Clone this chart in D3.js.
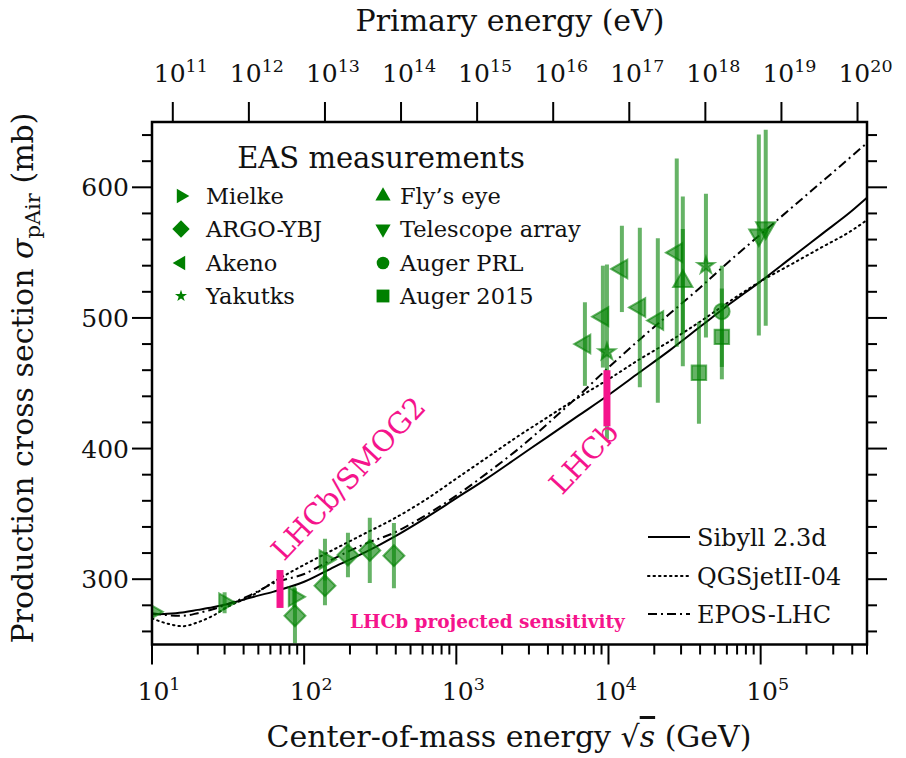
<!DOCTYPE html>
<html>
<head>
<meta charset="utf-8">
<script src="https://cdn.jsdelivr.net/npm/d3@7"></script>
<style>
  body { margin: 0; background: #fff; }
  text { font-family: "DejaVu Serif", serif; fill: #111; }
</style>
</head>
<body>
<div id="chart"></div>
<script>
// model curves, sqrt(s) in GeV vs sigma in mb
const gridE = [10, 12.6, 15.8, 20, 25.1, 31.6, 44.7, 63.1, 100, 158, 251, 398, 631, 1000, 1585, 2512, 3981, 6310, 10000, 15850, 25120, 39810, 63100, 100000, 158500, 251200, 398100, 500000]
const sibyll = [273, 273.5, 274.5, 276.5, 278.5, 281, 286, 290.5, 298, 309.5, 320.5, 333, 347, 362, 377, 393, 409, 425, 441, 458, 475, 493, 511, 528, 546, 564, 582, 592]
const qgsjet = [270, 266, 264, 267, 272, 279, 287, 298, 311, 323, 335, 347, 361, 377, 393, 409, 424, 439, 453, 468, 482, 497, 513, 528, 541, 554, 567, 575]
const epos = [274, 272.5, 272, 274, 277, 281, 288, 297, 304, 316, 327, 336, 349, 364, 381, 399, 419, 440, 462, 483, 503, 523, 544, 564, 584, 604, 624, 634]

// EAS measurements
const mielkeE = [10, 30, 86, 137]
const mielkeSig = [275, 282, 286.5, 315]
const mielkeErr = [0, 8, 8, 16]

const argoE = [87, 137, 194, 270, 389]
const argoSig = [272, 295, 318.5, 322, 318]
const argoErr = [21, 15, 17, 25, 25]

const akenoE = [7000, 9190, 12250, 16070, 21100, 28100]
const akenoSig = [480, 501, 537.5, 508, 498, 550]
const akenoErr = [32, 39, 33, 61, 63, 72]

const yakutskE = [9770, 43700]
const yakutskSig = [474, 540]
const yakutskErr = [67, 55]

const flyE = [30800]
const flySig = [528]
const flyErr = [65]
const flyStat = [40]

const taE = [97300, 108000]
const taSig = [563.5, 569]
const taErr = [77, 75]

const augerPrlE = [55600]
const augerPrlSig = [505]
const augerPrlUp = [35]
const augerPrlDown = [52]

const auger15E = [39300, 55600]
const auger15Sig = [458, 485.5]
const auger15Up = [39, 37]
const auger15Down = [39, 23]

// LHCb projected sensitivity
const lhcbE = [69.4, 9770]
const lhcbLo = [278, 417]
const lhcbHi = [307, 460]

const bottomTicks = [10, 100, 1000, 10000, 100000]
const topExp = [11, 12, 13, 14, 15, 16, 17, 18, 19, 20]
const yTicks = [300, 400, 500, 600]

const width = 906, height = 758
const frame = { left: 152, right: 867, top: 122, bottom: 644.5 }
const green = '#008000'
const pink = '#f5148c'

let svg = d3.select('#chart').append('svg')
            .attr('width', width)
            .attr('height', height)

let x = d3.scaleLog().domain([10, 5e5]).range([frame.left, frame.right])
let y = d3.scaleLinear().domain([250, 650]).range([frame.bottom, frame.top])

svg.append('clipPath').attr('id', 'clip')
   .append('rect')
   .attr('x', frame.left).attr('y', frame.top)
   .attr('width', frame.right - frame.left)
   .attr('height', frame.bottom - frame.top)

// ticks
let tickG = svg.append('g').attr('stroke', '#000').attr('stroke-width', 2)

x.ticks().forEach(function (t) {
  let major = bottomTicks.indexOf(t) >= 0
  let len = major ? 20 : 10
  tickG.append('line')
       .attr('x1', x(t)).attr('x2', x(t))
       .attr('y1', frame.bottom).attr('y2', frame.bottom + len)
})

d3.range(260, 650, 20).forEach(function (v) {
  let len = v % 100 === 0 ? 20 : 10
  tickG.append('line')
       .attr('x1', frame.left - len).attr('x2', frame.left)
       .attr('y1', y(v)).attr('y2', y(v))
  tickG.append('line')
       .attr('x1', frame.right).attr('x2', frame.right + len)
       .attr('y1', y(v)).attr('y2', y(v))
})

// primary energy: E_lab = s / (2 m_p)
function primaryToSqrtS(expo) {
  return Math.sqrt(2 * 0.938272 * Math.pow(10, expo - 9))
}
topExp.forEach(function (e) {
  let px = x(primaryToSqrtS(e))
  tickG.append('line')
       .attr('x1', px).attr('x2', px)
       .attr('y1', frame.top - 20).attr('y2', frame.top)
})

// tick labels
function powerLabel(g, px, py, base, expo, size) {
  let t = g.append('text')
           .attr('x', px).attr('y', py)
           .attr('text-anchor', 'middle')
           .style('font-size', size + 'px')
  t.append('tspan').text(base)
  t.append('tspan').attr('dy', -size * 0.42)
   .style('font-size', (size * 0.7) + 'px')
   .text(expo)
}

bottomTicks.forEach(function (t) {
  powerLabel(svg, x(t) + 7, 700, '10', Math.round(Math.log10(t)), 25)
})
topExp.forEach(function (e) {
  powerLabel(svg, x(primaryToSqrtS(e)) + 8, 82, '10', e, 25)
})
yTicks.forEach(function (v) {
  svg.append('text')
     .attr('x', 129).attr('y', y(v))
     .attr('dy', '0.36em')
     .attr('text-anchor', 'end')
     .style('font-size', '25px')
     .text(v)
})

// axis titles
svg.append('text')
   .attr('x', 510).attr('y', 31)
   .attr('text-anchor', 'middle')
   .style('font-size', '30px')
   .text('Primary energy (eV)')

let xt = svg.append('text')
            .attr('x', 509).attr('y', 747)
            .attr('text-anchor', 'middle')
            .style('font-size', '30px')
xt.append('tspan').text('Center-of-mass energy \u221A')
xt.append('tspan').style('font-style', 'italic')
  .style('text-decoration', 'overline')
  .text('s')
xt.append('tspan').text(' (GeV)')

let yt = svg.append('text')
            .attr('transform', 'translate(33,378) rotate(-90)')
            .attr('text-anchor', 'middle')
            .style('font-size', '30px')
yt.append('tspan').text('Production cross section ')
yt.append('tspan').style('font-style', 'italic').text('\u03C3')
yt.append('tspan').attr('dy', 7).style('font-size', '21px').text('pAir')
yt.append('tspan').attr('dy', -7).text(' (mb)')

// model curves
let plot = svg.append('g').attr('clip-path', 'url(#clip)')

let line = d3.line()
             .x(function (d) { return x(d[0]) })
             .y(function (d) { return y(d[1]) })
             .curve(d3.curveMonotoneX)

let models = [
  { name: 'Sibyll 2.3d', vals: sibyll, dash: null },
  { name: 'QGSjetII-04', vals: qgsjet, dash: '1.5,4' },
  { name: 'EPOS-LHC', vals: epos, dash: '9,4,2,4' }
]

models.forEach(function (m) {
  plot.append('path')
      .datum(gridE.map(function (e, i) { return [e, m.vals[i]] }))
      .attr('d', line)
      .attr('fill', 'none')
      .attr('stroke', '#000')
      .attr('stroke-width', 2)
      .attr('stroke-linecap', m.dash === '1.5,4' ? 'round' : 'butt')
      .attr('stroke-dasharray', m.dash)
})

// marker shapes
function markerPath(kind, size) {
  let sym = {
    right: d3.symbolTriangle, left: d3.symbolTriangle, up: d3.symbolTriangle,
    down: d3.symbolTriangle, diamond: d3.symbolSquare, star: d3.symbolStar,
    circle: d3.symbolCircle, square: d3.symbolSquare
  }[kind]
  return d3.symbol().type(sym).size(size)()
}
let rotation = { right: 90, left: -90, up: 0, down: 180, diamond: 45, star: 0, circle: 0, square: 0 }
let plotSize = { right: 150, left: 150, up: 160, down: 160, diamond: 220, star: 85, circle: 190, square: 210 }
let legendSize = { right: 90, left: 90, up: 100, down: 100, diamond: 150, star: 45, circle: 125, square: 165 }

function pts(E, S, up, down, stat) {
  return E.map(function (e, i) {
    return { e: e, s: S[i], up: up[i], down: down[i], stat: stat ? stat[i] : 0 }
  })
}

let series = [
  { kind: 'right', name: 'Mielke', data: pts(mielkeE, mielkeSig, mielkeErr, mielkeErr) },
  { kind: 'diamond', name: 'ARGO-YBJ', data: pts(argoE, argoSig, argoErr, argoErr) },
  { kind: 'left', name: 'Akeno', data: pts(akenoE, akenoSig, akenoErr, akenoErr) },
  { kind: 'star', name: 'Yakutks', data: pts(yakutskE, yakutskSig, yakutskErr, yakutskErr) },
  { kind: 'up', name: 'Fly\u2019s eye', data: pts(flyE, flySig, flyErr, flyErr, flyStat) },
  { kind: 'down', name: 'Telescope array', data: pts(taE, taSig, taErr, taErr) },
  { kind: 'circle', name: 'Auger PRL', data: pts(augerPrlE, augerPrlSig, augerPrlUp, augerPrlDown) },
  { kind: 'square', name: 'Auger 2015', data: pts(auger15E, auger15Sig, auger15Up, auger15Down) }
]

let dataG = plot.append('g')
series.forEach(function (sr) {
  sr.data.forEach(function (d) {
    if (d.up > 0) {
      dataG.append('line')
           .attr('x1', x(d.e)).attr('x2', x(d.e))
           .attr('y1', y(d.s + d.up)).attr('y2', y(d.s - d.down))
           .attr('stroke', green).attr('stroke-opacity', 0.6)
           .attr('stroke-width', 4)
    }
    if (d.stat > 0) {
      dataG.append('line')
           .attr('x1', x(d.e)).attr('x2', x(d.e))
           .attr('y1', y(d.s + d.stat)).attr('y2', y(d.s - d.stat))
           .attr('stroke', green).attr('stroke-opacity', 0.6)
           .attr('stroke-width', 4)
    }
  })
})
series.forEach(function (sr) {
  sr.data.forEach(function (d) {
    dataG.append('path')
         .attr('d', markerPath(sr.kind, plotSize[sr.kind]))
         .attr('transform', 'translate(' + x(d.e) + ',' + y(d.s) + ') rotate(' + rotation[sr.kind] + ')')
         .attr('fill', green).attr('fill-opacity', 0.6)
         .attr('stroke', green).attr('stroke-opacity', 0.6)
         .attr('stroke-width', 2)
  })
})

// pink LHCb bars, on top of the data
lhcbE.forEach(function (e, i) {
  plot.append('rect')
      .attr('x', x(e) - 3.5)
      .attr('y', y(lhcbHi[i]))
      .attr('width', 7)
      .attr('height', y(lhcbLo[i]) - y(lhcbHi[i]))
      .attr('fill', pink)
})

// frame
svg.append('rect')
   .attr('x', frame.left).attr('y', frame.top)
   .attr('width', frame.right - frame.left)
   .attr('height', frame.bottom - frame.top)
   .attr('fill', 'none')
   .attr('stroke', '#000')
   .attr('stroke-width', 2.5)

// annotations
svg.append('text')
   .attr('transform', 'translate(284,562) rotate(-47)')
   .style('font-size', '29px')
   .style('fill', pink)
   .text('LHCb/SMOG2')

svg.append('text')
   .attr('transform', 'translate(562,496) rotate(-47)')
   .style('font-size', '29px')
   .style('fill', pink)
   .text('LHCb')

svg.append('text')
   .attr('x', 350).attr('y', 628)
   .style('font-size', '18.5px')
   .style('font-weight', 'bold')
   .style('fill', pink)
   .text('LHCb projected sensitivity')

// EAS legend
svg.append('text')
   .attr('x', 381).attr('y', 168)
   .attr('text-anchor', 'middle')
   .style('font-size', '29px')
   .text('EAS measurements')

let legCols = [{ mx: 181, tx: 206 }, { mx: 383, tx: 400 }]
let legRows = [196, 229, 263, 296]
series.forEach(function (sr, i) {
  let col = legCols[Math.floor(i / 4)]
  let row = legRows[i % 4]
  svg.append('path')
     .attr('d', markerPath(sr.kind, legendSize[sr.kind]))
     .attr('transform', 'translate(' + col.mx + ',' + row + ') rotate(' + rotation[sr.kind] + ')')
     .attr('fill', green)
  svg.append('text')
     .attr('x', col.tx).attr('y', row)
     .attr('dy', '0.36em')
     .style('font-size', '22.5px')
     .text(sr.name)
})

// model legend
let modelRows = [537, 576, 614]
models.forEach(function (m, i) {
  svg.append('line')
     .attr('x1', 648).attr('x2', 690)
     .attr('y1', modelRows[i]).attr('y2', modelRows[i])
     .attr('stroke', '#000').attr('stroke-width', 2)
     .attr('stroke-linecap', m.dash === '1.5,4' ? 'round' : 'butt')
     .attr('stroke-dasharray', m.dash)
  svg.append('text')
     .attr('x', 697).attr('y', modelRows[i])
     .attr('dy', '0.36em')
     .style('font-size', '24px')
     .text(m.name)
})
</script>
</body>
</html>
